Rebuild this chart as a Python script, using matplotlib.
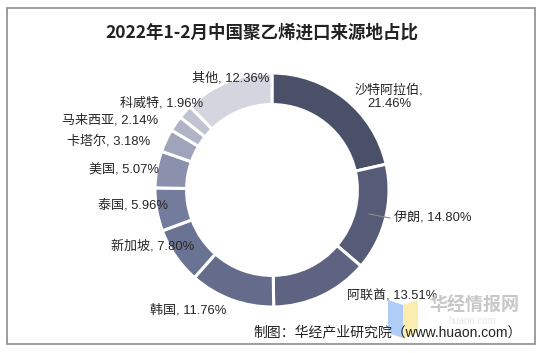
import matplotlib
matplotlib.use("Agg")
import matplotlib.pyplot as plt
from matplotlib.patches import Rectangle, Polygon

plt.rcParams['font.family'] = ['Liberation Sans', 'Noto Sans CJK SC', 'DejaVu Sans']

title = "2022年1-2月中国聚乙烯进口来源地占比"
categories = ["沙特阿拉伯", "伊朗", "阿联酋", "韩国", "新加坡", "泰国", "美国",
              "卡塔尔", "马来西亚", "科威特", "其他"]
values = [21.46, 14.80, 13.51, 11.76, 7.80, 5.96, 5.07, 3.18, 2.14, 1.96, 12.36]
colors = ["#4b5069", "#565c78", "#5d6381", "#646b8b", "#6b7395", "#747c9d",
          "#8b91ad", "#a0a4bb", "#b1b4c7", "#c0c3d1", "#d3d5df"]
source = "制图：华经产业研究院（www.huaon.com）"

W, H = 544, 353
fig = plt.figure(figsize=(W / 100, H / 100), dpi=100)
ax = fig.add_axes([0, 0, 1, 1])

def py(y):
    return H - y

cx, cy, R = 272, 190, 117
ax.pie(values, colors=colors, startangle=90, counterclock=False,
       center=(cx, py(cy)), radius=R, frame=True,
       wedgeprops=dict(width=R * 0.27, edgecolor="white", linewidth=2.2))
ax.set_xlim(0, W)
ax.set_ylim(0, H)
ax.set_aspect('equal')
ax.axis('off')

# frame
ax.add_patch(Rectangle((7, py(344)), 528, 336, fill=False, edgecolor="#8c8c8c", lw=1.2))

ax.text(262, py(33), title, ha='center', va='center', fontsize=12.6,
        fontweight='bold', family=['Noto Sans CJK SC'], color="#222222")

# label anchor positions (pixels), alignment
label_pos = [(389, 97, 'center'), (394, 218, 'left'), (392, 296, 'center'),
             (188, 310, 'center'), (153, 246, 'center'), (133, 205, 'center'),
             (124, 170, 'center'), (109, 141, 'center'), (110, 120, 'center'),
             (162, 103, 'center'), (231, 78, 'center')]
for name, v, (x, y, ha) in zip(categories, values, label_pos):
    if name == "沙特阿拉伯":
        txt = f"{name},\n{v:.2f}%"
    else:
        txt = f"{name}, {v:.2f}%"
    ax.text(x, py(y), txt, ha=ha, va='center', fontsize=9.4, color="#262626",
            linespacing=1.2)

# leader line for 伊朗
ax.plot([369, 390], [py(214), py(218)], color="#8a8a8a", lw=0.8)

# watermark
ax.add_patch(Polygon([(388, py(300)), (403, py(305)), (403, py(338)), (388, py(333))],
                     closed=True, facecolor="#a6c8f5", edgecolor='none', alpha=0.9))
ax.add_patch(Polygon([(403, py(305)), (418, py(300)), (418, py(333)), (403, py(338))],
                     closed=True, facecolor="#fbeaa6", edgecolor='none', alpha=0.9))
ax.text(474, py(305), "华经情报网", ha='center', va='center', fontsize=13,
        fontweight='bold', color="#c8c8c8", family=['Noto Sans CJK SC'])
ax.text(472, py(321), "huaon.com", ha='center', va='center', fontsize=7,
        color="#e6e6e6")

ax.text(522, py(332), source, ha='right', va='center', fontsize=10, color="#222222")

fig.savefig("out.png", dpi=100)
